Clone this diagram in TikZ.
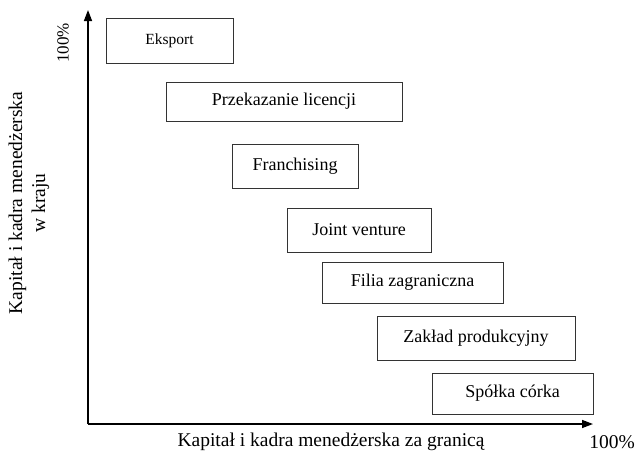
\documentclass[tikz,border=0pt]{standalone}
\usepackage{fontspec}
\setmainfont{Liberation Serif}
\usetikzlibrary{arrows.meta}
\begin{document}
\begin{tikzpicture}[x=1pt,y=-1pt,
  boxstyle/.style={draw=black!80, line width=0.8pt, inner sep=0pt, font=\fontsize{18}{21}\selectfont},
  axisstyle/.style={line width=1.4pt, -{Triangle[length=11pt,width=8pt]}},
  lbl/.style={inner sep=0pt, font=\fontsize{19.5}{23}\selectfont}]
\useasboundingbox (0,0) rectangle (638,453);
\coordinate (o) at (88,424);
\coordinate (ytop) at (88,10);
\coordinate (xend) at (593,424);
\draw[axisstyle] (o) -- (ytop);
\draw[axisstyle] (o) -- (xend);
\node[boxstyle, minimum width=127pt, minimum height=45pt, font=\fontsize{15.5}{18}\selectfont] (eks) at (169.5,40.5) {Eksport};
\node[boxstyle, minimum width=236pt, minimum height=39pt] (lic) at (284,101.5) {Przekazanie licencji};
\node[boxstyle, minimum width=126pt, minimum height=44pt] (fra) at (295,166) {Franchising};
\node[boxstyle, minimum width=144pt, minimum height=44pt] (jv) at (359,230) {Joint venture};
\node[boxstyle, minimum width=181pt, minimum height=41pt] (fil) at (412.5,282.5) {Filia zagraniczna};
\node[boxstyle, minimum width=198pt, minimum height=44pt] (zak) at (476,338) {Zakład produkcyjny};
\node[boxstyle, minimum width=161pt, minimum height=41pt] (spo) at (512.5,393.5) {Spółka córka};
\node[lbl] (xlab) at (331,442) {Kapitał i kadra menedżerska za granicą};
\node[lbl] (x100) at (612,442) {100\%};
\node[lbl, rotate=90, font=\fontsize{17}{20}\selectfont] (y100) at (63,43) {100\%};
\node[lbl, rotate=90, align=center] (ylab) at (29,203) {Kapitał i kadra menedżerska\\w kraju};
\end{tikzpicture}
\end{document}
